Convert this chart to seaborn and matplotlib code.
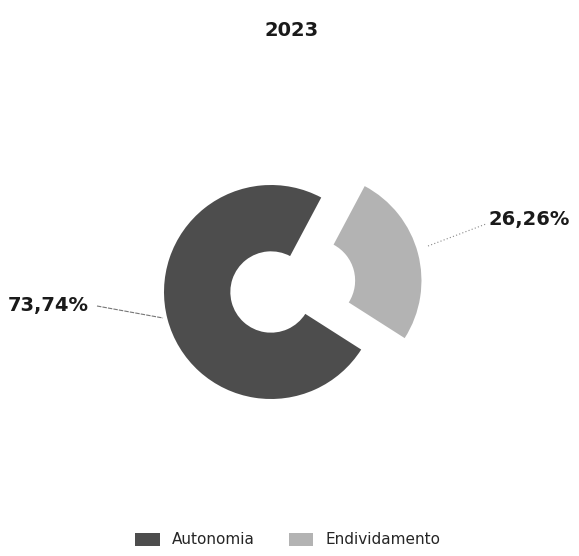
import matplotlib
matplotlib.use("Agg")
import matplotlib.pyplot as plt
import seaborn as sns

sns.set_theme(style="white")
plt.rcParams["font.family"] = ["DejaVu Sans"]

# Capital structure split for the year
title = "2023"
categories = ["Autonomia", "Endividamento"]
values = [73.74, 26.26]
value_labels = ["73,74%", "26,26%"]
colors = ["#4d4d4d", "#b3b3b3"]

W, H = 579, 556
fig = plt.figure(figsize=(W / 100, H / 100), dpi=100)
ax = fig.add_axes([0, 0, 1, 1])

cx, cy, r = 271, H - 292, 107
# pie offsets are given in data units here, so scale by the radius
wedges, _ = ax.pie(
    values,
    colors=colors,
    startangle=62,
    counterclock=True,
    explode=[0, 0.42 * r],
    center=(cx, cy),
    radius=r,
    wedgeprops=dict(width=r * 0.62, linewidth=0),
    frame=True,
)
ax.set_xlim(0, W)
ax.set_ylim(0, H)
ax.set_aspect("equal")
ax.axis("off")

# Value labels with thin leader lines
ax.plot([97, 130, 163], [H - 306, H - 312, H - 318], color="#777777",
        lw=0.8, ls=(0, (4, 1)))
ax.text(8, H - 305, value_labels[0], fontsize=14, fontweight="bold",
        ha="left", va="center", color="#1a1a1a")
ax.plot([428, 486], [H - 246, H - 224], color="#888888", lw=0.8,
        ls=(0, (1, 2)))
ax.text(488, H - 220, value_labels[1], fontsize=14, fontweight="bold",
        ha="left", va="center", color="#1a1a1a")

ax.text(292, H - 30, title, fontsize=14, fontweight="bold",
        ha="center", va="center", color="#1a1a1a")

ax.legend(wedges, categories, loc="center", ncol=2, frameon=False,
          bbox_to_anchor=(0.497, 1 - 540 / H), fontsize=11,
          handlelength=1.6, handleheight=0.9, columnspacing=2.2,
          handletextpad=0.8)

fig.savefig("out.png", dpi=100)
